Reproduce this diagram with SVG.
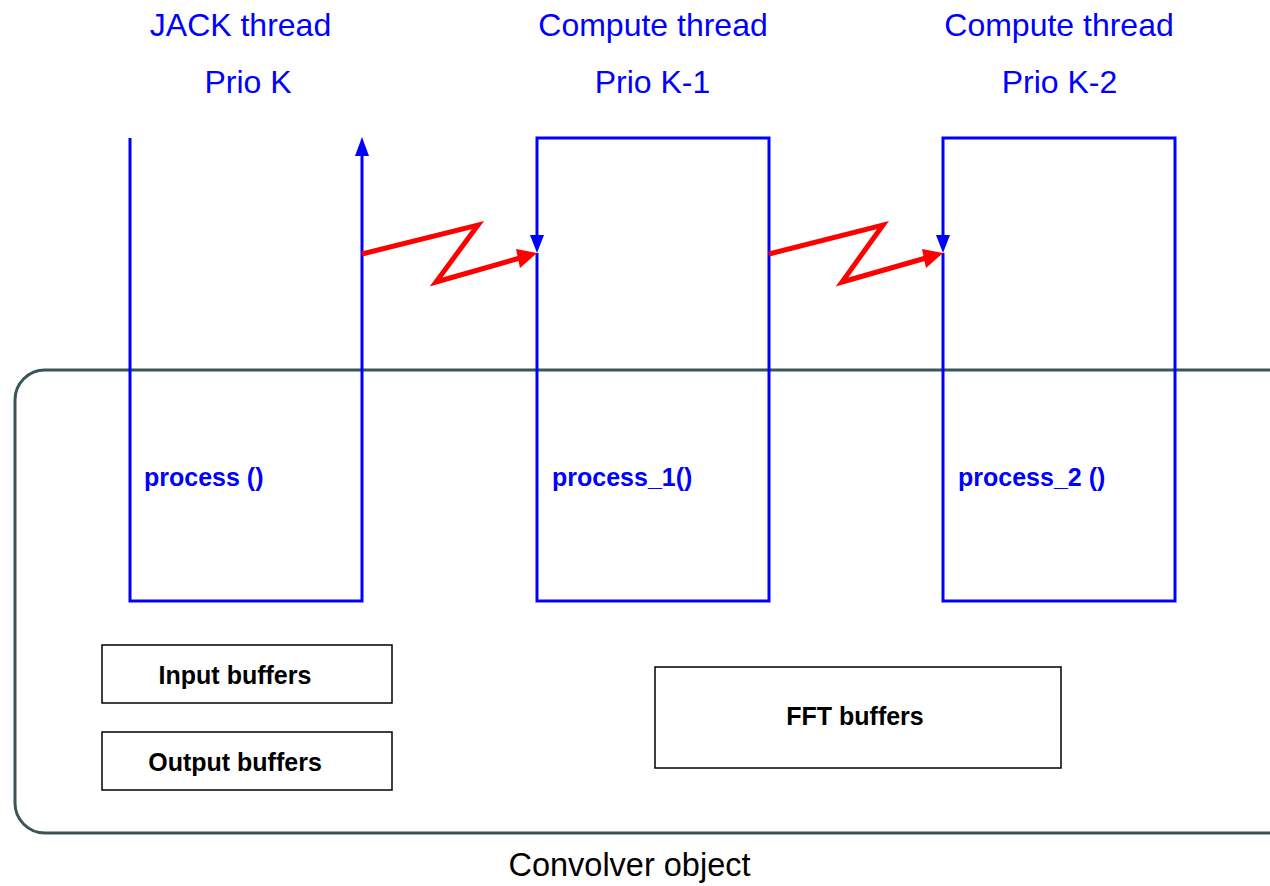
<svg xmlns="http://www.w3.org/2000/svg" width="1270" height="886" viewBox="0 0 1270 886">
  <style>
    .title { font-family: "Liberation Sans", Arial, sans-serif; font-size: 32px; fill: #0000ff; text-anchor: middle; }
    .fn { font-family: "Liberation Sans", Arial, sans-serif; font-size: 25px; font-weight: bold; fill: #0000ff; }
    .buf { font-family: "Liberation Sans", Arial, sans-serif; font-size: 25px; font-weight: bold; fill: #000; text-anchor: middle; }
    .caption { font-family: "Liberation Sans", Arial, sans-serif; font-size: 32.5px; fill: #000; text-anchor: middle; }
    .thread { fill: none; stroke: #0000ff; stroke-width: 3; }
    .bufbox { fill: #fff; stroke: #000; stroke-width: 1.5; }
    .signal { fill: none; stroke: #ff0000; stroke-width: 5; stroke-linejoin: miter; }
    .blue-head { fill: #0000ff; }
    .red-head { fill: #ff0000; }
  </style>

  <!-- Convolver object container -->
  <g id="convolver">
    <rect x="15" y="370" width="1290" height="463" rx="30" ry="30" fill="none" stroke="#3a5558" stroke-width="3"/>
    <text class="caption" x="629.5" y="876">Convolver object</text>
  </g>

  <!-- JACK thread -->
  <g id="jack-thread">
    <text class="title" x="240.5" y="36">JACK thread</text>
    <text class="title" x="248" y="93">Prio K</text>
    <path class="thread" d="M130,138 V601 H362 V150"/>
    <polygon class="blue-head" points="362,137 355,156 369,156"/>
    <text class="fn" x="144" y="486">process ()</text>
  </g>

  <!-- Compute thread, priority K-1 -->
  <g id="compute-thread-1">
    <text class="title" x="653" y="36">Compute thread</text>
    <text class="title" x="652.5" y="93">Prio K-1</text>
    <path class="thread" d="M537,240 V138 H769 V601 H537 V253"/>
    <polygon class="blue-head" points="537,253 530,235 544,235"/>
    <text class="fn" x="552" y="486">process_1()</text>
  </g>

  <!-- Compute thread, priority K-2 -->
  <g id="compute-thread-2">
    <text class="title" x="1059" y="36">Compute thread</text>
    <text class="title" x="1059.5" y="93">Prio K-2</text>
    <path class="thread" d="M943,240 V138 H1175 V601 H943 V253"/>
    <polygon class="blue-head" points="943,253 936,235 950,235"/>
    <text class="fn" x="958" y="486">process_2 ()</text>
  </g>

  <!-- Buffers -->
  <g id="input-buffers">
    <rect class="bufbox" x="102" y="645" width="290" height="58"/>
    <text class="buf" x="235" y="684">Input buffers</text>
  </g>
  <g id="output-buffers">
    <rect class="bufbox" x="102" y="732" width="290" height="58"/>
    <text class="buf" x="235" y="771">Output buffers</text>
  </g>
  <g id="fft-buffers">
    <rect class="bufbox" x="655" y="667" width="406" height="101"/>
    <text class="buf" x="855" y="725">FFT buffers</text>
  </g>

  <!-- Wake-up signals between threads -->
  <g id="connectors">
    <path class="signal" d="M362,254 L478,225 L436,282 L520,258"/>
    <polygon class="red-head" points="537,253 516,249 520,268"/>
    <path class="signal" d="M769,254 L883,225 L842,282 L926,258"/>
    <polygon class="red-head" points="943,253 922,249 926,268"/>
  </g>
</svg>
